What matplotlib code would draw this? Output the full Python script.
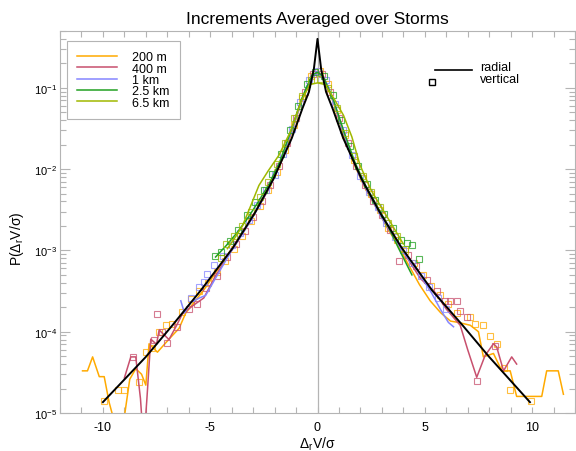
import matplotlib
matplotlib.use("Agg")
import matplotlib.pyplot as plt
from matplotlib.lines import Line2D
from matplotlib.legend_handler import HandlerLine2DCompound
from matplotlib.ticker import MultipleLocator, LogLocator, NullFormatter

plt.rcParams["font.family"] = ["Liberation Sans", "DejaVu Sans"]
plt.rcParams["mathtext.fontset"] = "custom"
plt.rcParams["mathtext.rm"] = "Liberation Sans"
plt.rcParams["mathtext.it"] = "Liberation Sans"
plt.rcParams["axes.unicode_minus"] = False

labels = ["200 m", "400 m", "1 km", "2.5 km", "6.5 km"]
colors = ["#FFAA00", "#C8506E", "#8585FF", "#22A022", "#A0B800"]

# radial increments (lines)
x_200_line = [-10.95, -10.72, -10.48, -10.17, -9.94, -9.71, -9.35, -9.0, -8.75, -8.47,
              -8.2, -8.0, -7.85, -7.46, -6.92, -6.45, -6.14, -5.75, -5.25, -4.75,
              -4.25, -3.75, -3.25, -2.75, -2.25, -1.75, -1.25, -0.75, -0.25, 0.0,
              0.25, 0.75, 1.25, 1.75, 2.25, 2.75, 3.25, 3.75, 4.25, 4.75,
              5.25, 5.75, 6.2, 6.57, 7.12, 7.5, 7.73, 8.2, 8.59, 8.98,
              9.28, 10.45, 10.68, 11.22, 11.46]
y_200_line = [3.3e-5, 3.3e-5, 4.9e-5, 2.8e-5, 2.8e-5, 1.35e-5, 6e-6, 9e-6, 2.6e-5, 3.5e-5,
              3.0e-5, 2.2e-5, 7.1e-5, 5.6e-5, 8.1e-5, 1.1e-4, 1.7e-4, 2.3e-4, 3.4e-4, 5.3e-4,
              8.4e-4, 1.3e-3, 2.1e-3, 3.5e-3, 5.9e-3, 1.12e-2, 2.6e-2, 6.6e-2, 1.38e-1, 1.55e-1,
              1.40e-1, 6.5e-2, 2.5e-2, 1.08e-2, 5.6e-3, 3.3e-3, 1.9e-3, 1.15e-3, 6.6e-4, 3.8e-4,
              2.4e-4, 1.7e-4, 1.35e-4, 1.3e-4, 1.2e-4, 1.0e-4, 4.9e-5, 5.4e-5, 3.3e-5, 3.3e-5,
              1.6e-5, 1.6e-5, 3.3e-5, 3.3e-5, 1.7e-5]

x_400_line = [-9.0, -8.7, -8.47, -8.25, -8.1, -7.95, -7.77, -7.5, -7.38, -6.92,
              -6.6, -6.3, -5.8, -5.3, -4.8, -4.3, -3.8, -3.3, -2.8, -2.3,
              -1.8, -1.3, -0.8, -0.3, 0.0, 0.3, 0.8, 1.3, 1.8, 2.3,
              2.8, 3.3, 3.8, 4.3, 4.8, 5.5, 6.0, 6.65, 7.0, 7.42,
              7.81, 8.2, 8.35, 8.67, 9.05, 9.28]
y_400_line = [2.7e-5, 4.9e-5, 4.9e-5, 1.5e-5, 4e-6, 1.5e-5, 8.1e-5, 7.0e-5, 1.05e-4, 8.0e-5,
              1.15e-4, 1.65e-4, 2.1e-4, 2.6e-4, 4.6e-4, 7.6e-4, 1.2e-3, 1.95e-3, 3.3e-3, 5.5e-3,
              1.08e-2, 2.5e-2, 6.4e-2, 1.35e-1, 1.6e-1, 1.35e-1, 6.2e-2, 2.4e-2, 1.05e-2, 5.4e-3,
              3.2e-3, 1.85e-3, 1.18e-3, 7.2e-4, 4.5e-4, 3.0e-4, 1.9e-4, 1.2e-4, 6.0e-5, 2.75e-5,
              5.1e-5, 7.1e-5, 6.5e-5, 3.3e-5, 4.9e-5, 4.0e-5]

x_1k_line = [-6.37, -6.2, -6.06, -5.9, -5.5, -5.21, -4.59, -4.0, -3.5, -3.0,
             -2.5, -2.0, -1.5, -1.0, -0.5, 0.0, 0.5, 1.0, 1.5, 2.0,
             2.5, 3.0, 3.5, 4.0, 4.71, 5.33, 5.72, 6.1, 6.34]
y_1k_line = [2.4e-4, 1.7e-4, 2.0e-4, 2.3e-4, 2.6e-4, 2.8e-4, 5.4e-4, 1.0e-3, 1.6e-3, 2.6e-3,
             4.5e-3, 8.0e-3, 1.75e-2, 4.3e-2, 1.05e-1, 1.6e-1, 1.05e-1, 4.2e-2, 1.7e-2, 7.8e-3,
             4.4e-3, 2.5e-3, 1.55e-3, 9.5e-4, 5.4e-4, 2.95e-4, 1.9e-4, 1.3e-4, 1.15e-4]

x_2k5_line = [-4.75, -4.25, -3.75, -3.25, -2.75, -2.25, -1.75, -1.25, -0.75, -0.25,
              0.0, 0.25, 0.75, 1.25, 1.75, 2.25, 2.75, 3.25, 3.75, 4.17, 4.4]
y_2k5_line = [8.3e-4, 1.15e-3, 1.65e-3, 2.5e-3, 4.0e-3, 6.6e-3, 1.25e-2, 2.9e-2, 7.2e-2, 1.45e-1,
              1.55e-1, 1.4e-1, 7.0e-2, 2.8e-2, 1.2e-2, 6.2e-3, 3.6e-3, 2.1e-3, 1.1e-3, 6.6e-4, 5.0e-4]

x_6k5_line = [-4.2, -3.8, -3.5, -3.12, -2.73, -2.3, -1.8, -1.26, -0.75, -0.35,
              0.0, 0.35, 0.75, 1.21, 1.6, 1.98, 2.5, 3.0, 3.5, 4.0]
y_6k5_line = [1.05e-3, 1.5e-3, 2.0e-3, 3.5e-3, 6.3e-3, 9.5e-3, 1.48e-2, 2.9e-2, 7.0e-2, 1.1e-1,
              1.15e-1, 1.1e-1, 7.5e-2, 4.6e-2, 2.5e-2, 1.12e-2, 5.5e-3, 3.3e-3, 2.0e-3, 1.2e-3]

# vertical increments (squares)
x_200_sq = [-9.94, -9.32, -9.01, -8.31, -8.0, -7.7, -7.38, -7.07, -6.76, -6.3,
            -5.91, -5.5, -5.1, -4.7, -4.3, -3.9, -3.5, -3.1, -2.7, -2.3,
            -1.9, -1.5, -1.1, -0.7, -0.3, 0.1, 0.5, 0.9, 1.3, 1.7,
            2.1, 2.5, 2.9, 3.3, 3.7, 4.1, 4.5, 4.9, 5.3, 5.7,
            6.1, 6.5, 7.1, 7.35, 7.73, 8.05, 8.35, 8.67, 8.98, 9.94]
y_200_sq = [1.4e-5, 1.9e-5, 1.9e-5, 2.4e-5, 5.6e-5, 6.3e-5, 1.0e-4, 1.2e-4, 1.26e-4, 1.74e-4,
            2.5e-4, 3.2e-4, 4.0e-4, 5.5e-4, 7.5e-4, 1.05e-3, 1.5e-3, 2.3e-3, 3.5e-3, 5.6e-3,
            9.2e-3, 1.7e-2, 3.5e-2, 7.5e-2, 1.4e-1, 1.6e-1, 1.1e-1, 5.4e-2, 2.6e-2, 1.3e-2,
            7.7e-3, 4.9e-3, 3.1e-3, 1.9e-3, 1.35e-3, 9.8e-4, 7.0e-4, 5.0e-4, 3.6e-4, 2.8e-4,
            2.2e-4, 1.7e-4, 1.5e-4, 1.26e-4, 1.2e-4, 8.9e-5, 7.1e-5, 3.6e-5, 1.9e-5, 1.4e-5]

x_400_sq = [-8.62, -7.6, -7.46, -7.23, -7.0, -6.53, -6.0, -5.6, -5.2, -4.67,
            -4.2, -3.8, -3.4, -3.0, -2.6, -2.2, -1.8, -1.4, -1.0, -0.6,
            -0.2, 0.2, 0.6, 1.0, 1.4, 1.8, 2.2, 2.6, 3.0, 3.4,
            3.78, 4.2, 4.6, 5.1, 5.56, 5.95, 6.19, 6.49, 6.65, 6.96,
            7.42, 8.28]
y_400_sq = [4.9e-5, 7.9e-5, 1.66e-4, 1.0e-4, 7.2e-5, 1.15e-4, 1.9e-4, 2.2e-4, 3.4e-4, 4.9e-4,
            8.2e-4, 1.2e-3, 1.75e-3, 2.6e-3, 4.0e-3, 6.4e-3, 1.1e-2, 2.1e-2, 4.3e-2, 9.0e-2,
            1.5e-1, 1.5e-1, 8.8e-2, 4.2e-2, 2.1e-2, 1.08e-2, 6.3e-3, 4.1e-3, 2.7e-3, 1.78e-3,
            7.5e-4, 8.8e-4, 6.5e-4, 4.3e-4, 3.2e-4, 2.4e-4, 2.4e-4, 2.4e-4, 1.8e-4, 1.5e-4,
            2.5e-5, 6.6e-5]

x_1k_sq = [-5.9, -5.52, -5.28, -5.13, -4.82, -4.4, -4.0, -3.6, -3.2, -2.8,
           -2.4, -2.0, -1.6, -1.2, -0.8, -0.4, 0.0, 0.4, 0.8, 1.2,
           1.6, 2.0, 2.4, 2.8, 3.2, 3.6, 4.0, 4.4, 4.8, 5.2,
           5.6, 6.0]
y_1k_sq = [2.6e-4, 3.5e-4, 4.1e-4, 5.1e-4, 6.6e-4, 8.5e-4, 1.15e-3, 1.65e-3, 2.4e-3, 3.6e-3,
           5.5e-3, 8.5e-3, 1.55e-2, 3.1e-2, 6.7e-2, 1.25e-1, 1.6e-1, 1.25e-1, 6.4e-2, 3.0e-2,
           1.48e-2, 8.2e-3, 5.2e-3, 3.4e-3, 2.2e-3, 1.45e-3, 1.0e-3, 7.0e-4, 4.8e-4, 3.5e-4,
           2.6e-4, 1.9e-4]

x_2k5_sq = [-4.8, -4.5, -4.1, -3.7, -3.3, -2.9, -2.5, -2.1, -1.7, -1.3,
            -0.9, -0.5, -0.1, 0.3, 0.7, 1.1, 1.5, 1.9, 2.3, 2.7,
            3.1, 3.5, 3.9, 4.15, 4.39, 4.71]
y_2k5_sq = [8.5e-4, 9.5e-4, 1.3e-3, 1.8e-3, 2.7e-3, 3.9e-3, 5.6e-3, 8.8e-3, 1.55e-2, 3.0e-2,
            6.0e-2, 1.1e-1, 1.55e-1, 1.4e-1, 8.2e-2, 4.0e-2, 1.95e-2, 1.08e-2, 6.5e-3, 4.2e-3,
            2.8e-3, 1.9e-3, 1.35e-3, 1.25e-3, 1.15e-3, 7.9e-4]

x_6k5_sq = [-4.5, -4.28, -3.9, -3.5, -3.1, -2.7, -2.3, -1.9, -1.5, -1.1,
            -0.7, -0.3, 0.1, 0.5, 0.9, 1.3, 1.7, 2.1, 2.5, 2.9,
            3.3, 3.7, 4.1]
y_6k5_sq = [8.0e-4, 1.2e-3, 1.5e-3, 2.0e-3, 3.0e-3, 4.6e-3, 7.0e-3, 1.15e-2, 2.1e-2, 4.2e-2,
            8.0e-2, 1.25e-1, 1.3e-1, 1.0e-1, 5.6e-2, 2.8e-2, 1.45e-2, 8.3e-3, 5.3e-3, 3.4e-3,
            2.2e-3, 1.5e-3, 1.05e-3]

# fitted radial distribution
x_fit = [-10.0, -8.0, -6.76, -5.37, -3.95, -2.9, -2.05, -1.2, -0.7, -0.4, -0.17, 0.0,
         0.17, 0.4, 0.7, 1.2, 2.05, 2.9, 3.9, 5.35, 6.76, 8.0, 9.9]
y_fit = [1.36e-5, 4.9e-5, 1.2e-4, 3.4e-4, 1.07e-3, 2.95e-3, 7.6e-3, 2.4e-2, 5.6e-2, 8.9e-2, 1.7e-1, 4.0e-1,
         1.7e-1, 8.9e-2, 5.6e-2, 2.4e-2, 7.6e-3, 2.95e-3, 1.1e-3, 3.2e-4, 1.2e-4, 4.9e-5, 1.36e-5]

lines_x = [x_200_line, x_400_line, x_1k_line, x_2k5_line, x_6k5_line]
lines_y = [y_200_line, y_400_line, y_1k_line, y_2k5_line, y_6k5_line]
squares_x = [x_200_sq, x_400_sq, x_1k_sq, x_2k5_sq, x_6k5_sq]
squares_y = [y_200_sq, y_400_sq, y_1k_sq, y_2k5_sq, y_6k5_sq]


class LowHandle(HandlerLine2DCompound):
    # IDL style key: handle sits a bit below the text, square at the left end
    def __init__(self, marker_left=False, drop=3.0, **kw):
        super().__init__(**kw)
        self.marker_left = marker_left
        self.drop = drop

    def get_xdata(self, legend, xdescent, ydescent, width, height, fontsize):
        xdata, xm = super().get_xdata(legend, xdescent, ydescent, width, height, fontsize)
        if self.marker_left:
            xm = [-xdescent - 0.08 * width]
        return xdata, xm

    def create_artists(self, legend, orig_handle, xdescent, ydescent, width, height,
                       fontsize, trans):
        arts = super().create_artists(legend, orig_handle, xdescent, ydescent, width,
                                      height, fontsize, trans)
        for a in arts:
            a.set_ydata([y - self.drop for y in a.get_ydata()])
        return arts


grey = "#b4b4b4"
fig = plt.figure(figsize=(5.76, 4.52), dpi=100)
ax = fig.add_axes([60 / 576, 38 / 452, 515 / 576, 382 / 452])

ax.axvline(0, color=grey, lw=0.9, zorder=0.5)

handles = []
for lx, ly, sx, sy, c, lab in zip(lines_x, lines_y, squares_x, squares_y, colors, labels):
    ax.plot(sx, sy, ls="none", marker="s", ms=5, mfc="none", mec=c, mew=0.8, alpha=0.75)
    h, = ax.plot(lx, ly, color=c, lw=1.1, label=lab)
    handles.append(h)

ax.plot(x_fit, y_fit, color="black", lw=1.4)

ax.set_yscale("log")
ax.set_xlim(-12, 12)
ax.set_ylim(1e-5, 0.5)

ax.xaxis.set_major_locator(MultipleLocator(5))
ax.xaxis.set_minor_locator(MultipleLocator(1))
ax.yaxis.set_major_locator(LogLocator(base=10, numticks=10))
ax.yaxis.set_minor_locator(LogLocator(base=10, subs=range(2, 10), numticks=10))
ax.yaxis.set_minor_formatter(NullFormatter())

ax.tick_params(which="both", direction="in", top=True, right=True, color=grey, width=0.8)
ax.tick_params(axis="x", which="both", length=4.5, labelsize=9, pad=6)
ax.tick_params(axis="y", which="major", length=7, labelsize=8, pad=2)
ax.tick_params(axis="y", which="minor", length=4)
for sp in ax.spines.values():
    sp.set_color(grey)
    sp.set_linewidth(0.8)

ax.set_title("Increments Averaged over Storms", fontsize=12.5, pad=6)
ax.set_xlabel(r"$\Delta_r V/\sigma$", fontsize=10, labelpad=1)
ax.set_ylabel(r"$P(\Delta_r V/\sigma)$", fontsize=10)
ax.yaxis.set_label_coords(-0.066, 0.458)

leg1 = ax.legend(handles=handles, loc="upper left", bbox_to_anchor=(0.013, 0.975),
                 borderaxespad=0, fontsize=9, handlelength=3.2, handletextpad=1.2,
                 labelspacing=-0.05, borderpad=0.85, fancybox=False, framealpha=1,
                 edgecolor=grey)
leg1.get_frame().set_linewidth(0.8)
ax.add_artist(leg1)

radial = Line2D([], [], color="black", lw=1.2)
vertical = Line2D([], [], ls="none", marker="s", ms=5, mfc="none", mec="black", mew=1.0)
ax.legend([radial, vertical], ["radial", "vertical"], loc="upper left",
          bbox_to_anchor=(0.718, 0.934), borderaxespad=0, frameon=False, fontsize=9,
          handlelength=3.0, handletextpad=0.6, labelspacing=0.0,
          handler_map={radial: LowHandle(), vertical: LowHandle(marker_left=True)})

fig.savefig("out.png", dpi=100)
